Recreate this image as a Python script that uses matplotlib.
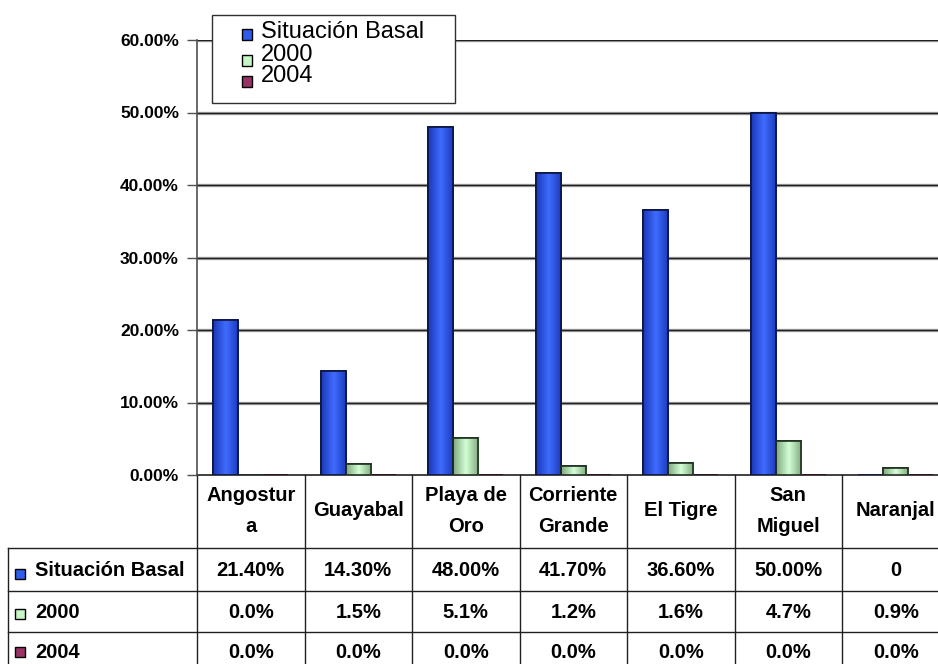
import matplotlib.pyplot as plt
import matplotlib.transforms as mtransforms
from matplotlib.patches import Rectangle
from matplotlib.colors import LinearSegmentedColormap
import numpy as np

plt.rcParams['font.family'] = ['Liberation Sans', 'DejaVu Sans']

# datos
categorias = ['Angostur\na', 'Guayabal', 'Playa de\nOro', 'Corriente\nGrande',
              'El Tigre', 'San\nMiguel', 'Naranjal']
series = ['Situación Basal', '2000', '2004']
basal = [0.214, 0.143, 0.48, 0.417, 0.366, 0.50, 0.0]
anio_2000 = [0.0, 0.015, 0.051, 0.012, 0.016, 0.047, 0.009]
anio_2004 = [0.0, 0.0, 0.0, 0.0, 0.0, 0.0, 0.0]
tabla_basal = ['21.40%', '14.30%', '48.00%', '41.70%', '36.60%', '50.00%', '0']
tabla_2000 = ['0.0%', '1.5%', '5.1%', '1.2%', '1.6%', '4.7%', '0.9%']
tabla_2004 = ['0.0%', '0.0%', '0.0%', '0.0%', '0.0%', '0.0%', '0.0%']
yticks = [0.0, 0.1, 0.2, 0.3, 0.4, 0.5, 0.6]

colores = ['#2F5CEB', '#C6F5C6', '#993366']
bordes = ['#0B1440', '#1E2E1E', '#2A0A1A']
# degradado horizontal (borde, centro, borde)
degradados = [['#1B38B8', '#3F6CFF', '#1B38B8'],
              ['#7FA87F', '#D4FFD4', '#7FA87F'],
              ['#6E2048', '#B04A7E', '#6E2048']]

W, H = 938, 664
fig = plt.figure(figsize=(W / 100, H / 100), dpi=100)

# area del grafico en pixeles
x0, x1 = 197, 949.5
y_top, y_cero = 40, 475
ax = fig.add_axes([x0 / W, 1 - y_cero / H, (x1 - x0) / W, (y_cero - y_top) / H])
n = len(categorias)

for y in yticks[1:]:
    ax.axhline(y, color='#A8A8A8', lw=2.4, zorder=1)
    ax.axhline(y, color='#202020', lw=1.0, zorder=1.1)

ancho = 0.233
x = np.arange(n)
valores = [basal, anio_2000, anio_2004]
grad = np.linspace(0, 1, 64).reshape(1, -1)
for k, vals in enumerate(valores):
    barras = ax.bar(x + (k - 1) * ancho, vals, width=ancho, color=colores[k],
                    edgecolor=bordes[k], linewidth=1.2, zorder=3)
    cmap = LinearSegmentedColormap.from_list(f'g{k}', degradados[k])
    for b in barras:
        if b.get_height() <= 0:
            continue
        bx, by = b.get_x(), b.get_y()
        im = ax.imshow(grad, cmap=cmap, aspect='auto', zorder=3.5,
                       extent=[bx, bx + b.get_width(), by, by + b.get_height()])
        im.set_clip_path(b)
        ax.bar(bx + b.get_width() / 2, b.get_height(), width=b.get_width(),
               fill=False, edgecolor=bordes[k], linewidth=1.2, zorder=4)
ax.set_xlim(-0.5, n - 0.5)
ax.set_ylim(0, 0.6)

for s in ['top', 'right', 'bottom']:
    ax.spines[s].set_visible(False)
ax.spines['left'].set_color('#505050')
ax.spines['left'].set_linewidth(1.2)
ax.set_xticks([])
ax.set_yticks(yticks)
ax.set_yticklabels([f'{v * 100:.2f}%' for v in yticks], fontsize=12.5, fontweight='bold')
ax.tick_params(axis='y', length=7, width=1.0, color='#505050', pad=6)

# tabla de datos
def fy(ypx):
    return 1 - ypx / H

tr = mtransforms.blended_transform_factory(ax.transData, fig.transFigure)
trf = fig.transFigure
lc = '#202020'

filas_y = [475, 548, 591, 632, 674]
bordes_col = np.arange(n + 1) - 0.5
izq_tabla = 8 / W

# lineas horizontales
ax.plot([-0.5, n - 0.5], [fy(475), fy(475)], transform=tr, color=lc, lw=1.2, clip_on=False)
for yp in filas_y[1:]:
    ax.plot([izq_tabla, 1.02], [fy(yp), fy(yp)], transform=trf, color=lc, lw=1.0, clip_on=False)
# lineas verticales
for b in bordes_col:
    ax.plot([b, b], [fy(475), fy(674)], transform=tr, color=lc, lw=1.0, clip_on=False)
ax.plot([izq_tabla, izq_tabla], [fy(548), fy(674)], transform=trf, color=lc, lw=1.0, clip_on=False)

for i, cat in enumerate(categorias):
    ax.text(i, fy(511), cat, transform=tr, ha='center', va='center', fontsize=14.5,
            fontweight='bold', linespacing=1.85)

filas = [tabla_basal, tabla_2000, tabla_2004]
centros = [571, 612, 652]
marcas = [574, 614, 652]
for r, fila in enumerate(filas):
    for i, txt in enumerate(fila):
        ax.text(i, fy(centros[r]), txt, transform=tr, ha='center', va='center',
                fontsize=14.5, fontweight='bold')
    fig.patches.append(Rectangle((15 / W, fy(marcas[r] + 5)), 10 / W, 10 / H,
                                 transform=trf, facecolor=colores[r],
                                 edgecolor='black', lw=1.0))
    fig.text(35 / W, fy(centros[r]), series[r], ha='left', va='center',
             fontsize=14.5, fontweight='bold')

# leyenda
fig.patches.append(Rectangle((212 / W, fy(103)), 243 / W, 88 / H, transform=trf,
                             facecolor='white', edgecolor='#303030', lw=1.0, zorder=5))
ley_y = [32, 55, 76]
ley_m = [34, 60, 81]
for k, nombre in enumerate(series):
    fig.patches.append(Rectangle((242 / W, fy(ley_m[k] + 6)), 10 / W, 11 / H,
                                 transform=trf, facecolor=colores[k],
                                 edgecolor='black', lw=1.0, zorder=6))
    fig.text(261 / W, fy(ley_y[k]), nombre, ha='left', va='center', fontsize=17,
             zorder=7)

fig.savefig('out.png', dpi=100)
